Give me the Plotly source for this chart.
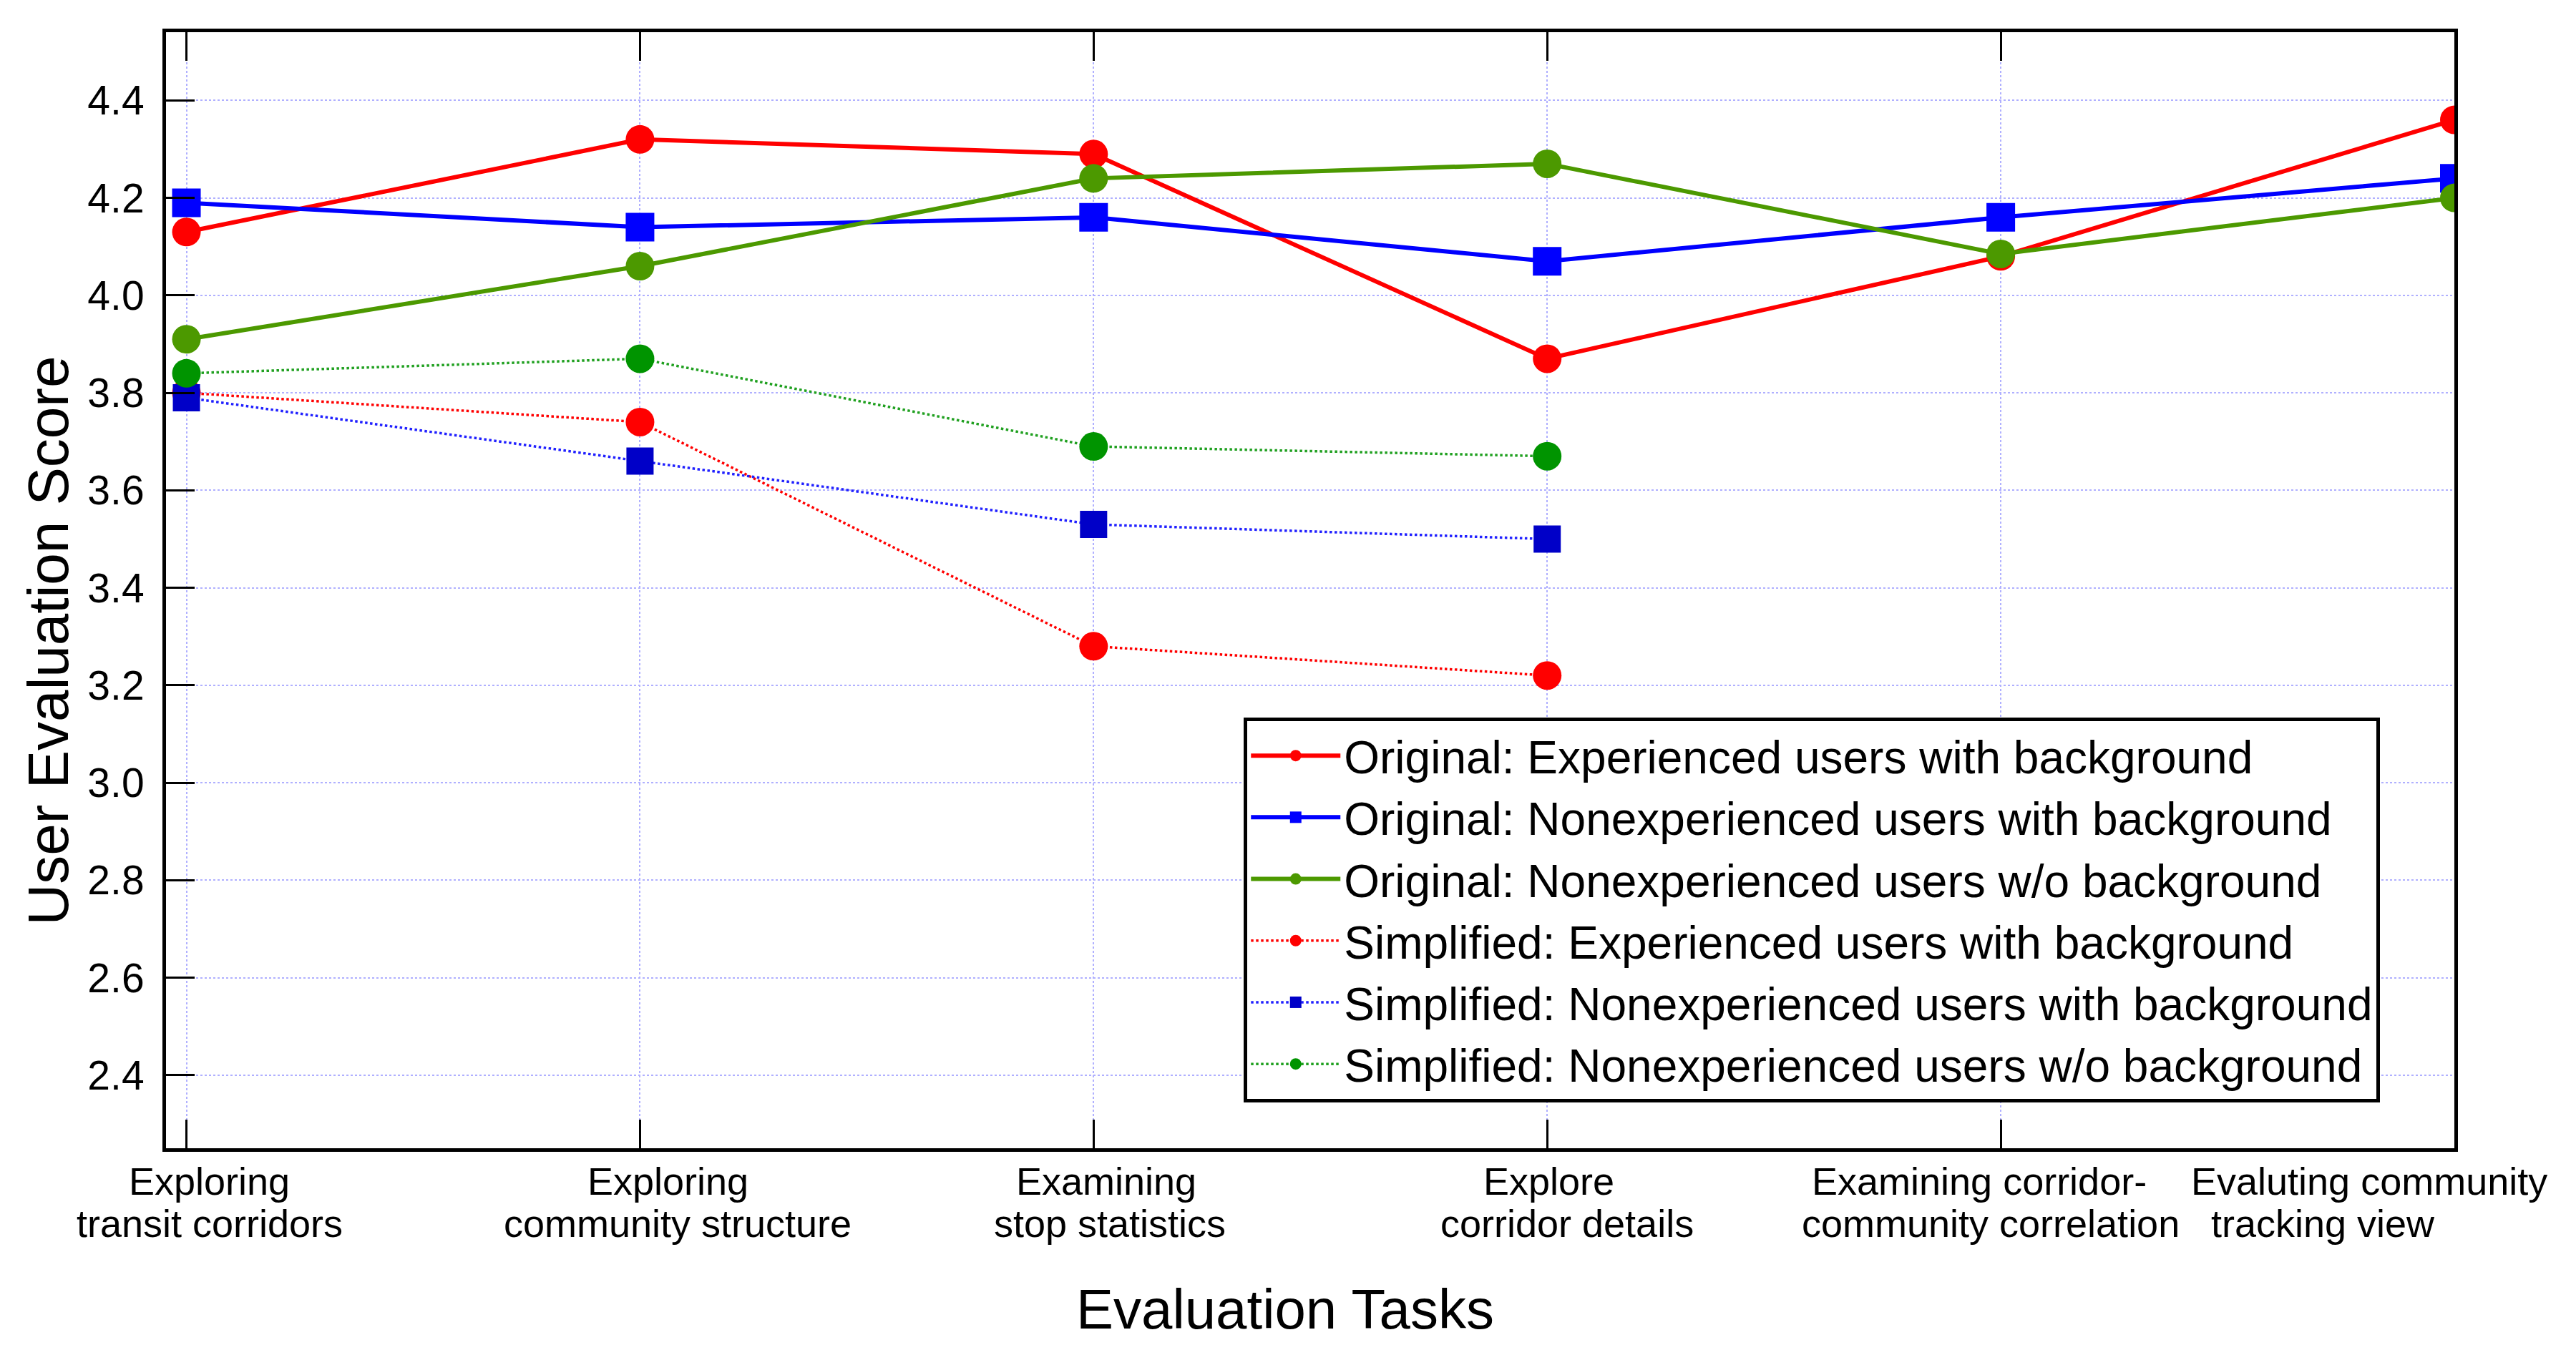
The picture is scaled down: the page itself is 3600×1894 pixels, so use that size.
import plotly.graph_objects as go

# Données
taches = ["Exploring<br>transit corridors", "Exploring<br>community structure",
          "Examining<br>stop statistics", "Explore<br>corridor details",
          "Examining corridor-<br>community correlation", "Evaluting community<br>tracking view"]

orig_exp_bg = [4.13, 4.32, 4.29, 3.87, 4.08, 4.36]
orig_nonexp_bg = [4.19, 4.14, 4.16, 4.07, 4.16, 4.24]
orig_nonexp_nobg = [3.91, 4.06, 4.24, 4.27, 4.085, 4.20]
simp_exp_bg = [3.80, 3.74, 3.28, 3.22]
simp_nonexp_bg = [3.79, 3.66, 3.53, 3.50]
simp_nonexp_nobg = [3.84, 3.87, 3.69, 3.67]

noms = ["Original: Experienced users with background",
        "Original: Nonexperienced users with background",
        "Original: Nonexperienced users w/o background",
        "Simplified: Experienced users with background",
        "Simplified: Nonexperienced users with background",
        "Simplified: Nonexperienced users w/o background"]

y_ticks = [2.4, 2.6, 2.8, 3.0, 3.2, 3.4, 3.6, 3.8, 4.0, 4.2, 4.4]

police = "Arial, Liberation Sans, sans-serif"

fig = go.Figure()

# Courbes "Original" (trait plein)
styles_orig = [("#ff0000", "circle", 40), ("#0000ff", "square", 40), ("#4c9900", "circle", 40)]
for serie, nom, (coul, sym, taille) in zip([orig_exp_bg, orig_nonexp_bg, orig_nonexp_nobg], noms[:3], styles_orig):
    fig.add_trace(go.Scatter(x=taches[:len(serie)], y=serie, name=nom, mode="lines+markers",
                             line=dict(color=coul, width=6),
                             marker=dict(color=coul, symbol=sym, size=taille)))

# Courbes "Simplified" (pointillés)
styles_simp = [("#ff0000", "#ff0000", "circle", 40), ("#2020ff", "#0000c8", "square", 38),
               ("#20a020", "#009400", "circle", 40)]
for serie, nom, (coul, coul_m, sym, taille) in zip([simp_exp_bg, simp_nonexp_bg, simp_nonexp_nobg], noms[3:], styles_simp):
    fig.add_trace(go.Scatter(x=taches[:len(serie)], y=serie, name=nom, mode="lines+markers",
                             line=dict(color=coul, width=3.5, dash="dot"),
                             marker=dict(color=coul_m, symbol=sym, size=taille)))

# Etiquettes des tâches : une annotation par ligne, décalées comme sur l'original
decal_l1 = [32, 39, 18, 2, -30, -119]
decal_l2 = [32, 53, 23, 28, -14, -184]
for t, d1, d2 in zip(taches, decal_l1, decal_l2):
    ligne1, ligne2 = t.split("<br>")
    for txt, y, dx in [(ligne1, -0.0293, d1), (ligne2, -0.0674, d2)]:
        fig.add_annotation(x=t, y=y, xref="x", yref="paper", text=txt, showarrow=False,
                           xshift=dx, xanchor="center", yanchor="middle",
                           font=dict(size=54, color="black"))

fig.add_annotation(x=0.489, y=-0.144, xref="paper", yref="paper", text="Evaluation Tasks",
                   xanchor="center", yanchor="middle", showarrow=False,
                   font=dict(size=78, color="black"))
fig.add_annotation(x=-0.0515, y=0.455, xref="paper", yref="paper", text="User Evaluation Score",
                   xanchor="center", yanchor="middle", textangle=-90, showarrow=False,
                   font=dict(size=80, color="black"))

fig.update_xaxes(range=[-0.045, 5], showticklabels=False, ticks="inside", ticklen=40, tickwidth=3,
                 tickcolor="black", showline=True, linewidth=5, linecolor="black", mirror="ticks",
                 showgrid=True, gridcolor="#b0b0ff", gridwidth=2, griddash="dot", zeroline=False)
fig.update_yaxes(range=[2.25, 4.54], tickvals=y_ticks, ticktext=[f"{v:.1f}" for v in y_ticks],
                 ticks="inside", ticklen=40, tickwidth=3, tickcolor="black",
                 showline=True, linewidth=5, linecolor="black", mirror=True,
                 showgrid=True, gridcolor="#b0b0ff", gridwidth=2, griddash="dot", zeroline=False,
                 tickfont=dict(size=57, color="black"), ticklabelstandoff=14)

fig.update_layout(
    width=3600, height=1894,
    margin=dict(l=224, r=178, t=37, b=297),
    plot_bgcolor="white", paper_bgcolor="white",
    font=dict(family=police, color="black"),
    showlegend=True,
    legend=dict(x=0.471, y=0.041, xanchor="left", yanchor="bottom",
                bgcolor="white", bordercolor="black", borderwidth=5,
                font=dict(size=64, color="black"), itemwidth=125, tracegroupgap=0),
)

fig.write_html("out.html")
